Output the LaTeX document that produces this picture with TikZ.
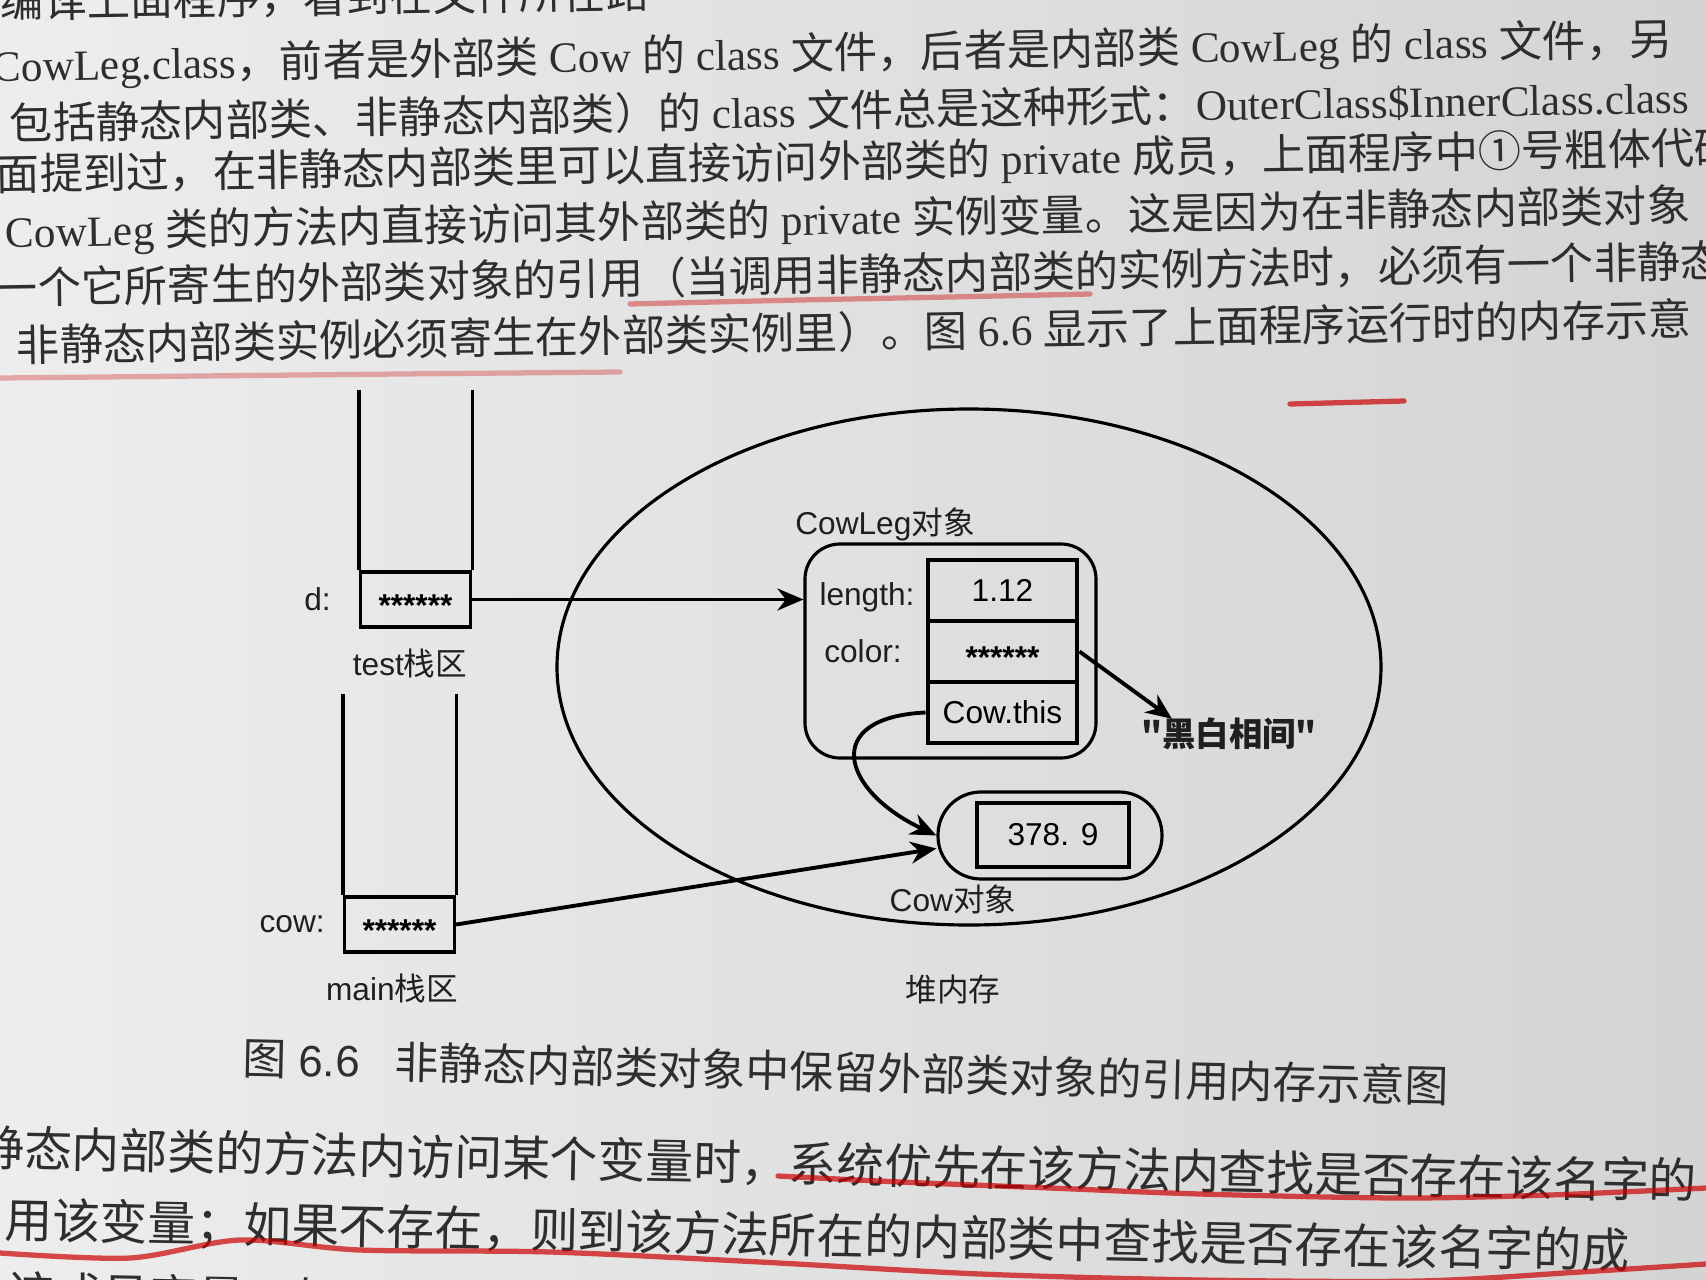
\documentclass[tikz,border=0pt]{standalone}
\usepackage{fontspec}
\setmainfont{Liberation Serif}
\setsansfont{Liberation Sans}
\newfontfamily\cjk{Noto Sans CJK SC}
\usetikzlibrary{arrows.meta,calc,shapes.geometric}

% switch to the CJK font for CJK characters
\XeTeXinterchartokenstate=1
\newXeTeXintercharclass\cjkcls
\count255="3000
\loop \XeTeXcharclass\count255=\cjkcls
  \ifnum\count255<"9FFF \advance\count255 by 1 \repeat
\count255="FF00
\loop \XeTeXcharclass\count255=\cjkcls
  \ifnum\count255<"FFEF \advance\count255 by 1 \repeat
\XeTeXcharclass"2460=\cjkcls
\XeTeXinterchartoks 0 \cjkcls = {\begingroup\cjk}
\XeTeXinterchartoks 4095 \cjkcls = {\begingroup\cjk}
\XeTeXinterchartoks \cjkcls 0 = {\endgroup}
\XeTeXinterchartoks \cjkcls 4095 = {\endgroup}

\newcommand\stars{\raisebox{-1ex}[0pt][0pt]{\bfseries ******}}

\begin{document}
\begin{tikzpicture}[x=0.1mm, y=-0.1mm,
  txt/.style={font=\sffamily\fontsize{9}{10}\selectfont, text=black!88, inner sep=1pt},
  cell/.style={draw, line width=0.9pt, inner sep=0pt, minimum width=11mm, minimum height=5.5mm,
    font=\sffamily\fontsize{9}{10}\selectfont},
  field/.style={draw, line width=1.4pt, inner sep=0pt, minimum width=14.9mm, minimum height=6.1mm,
    font=\sffamily\fontsize{9}{10}\selectfont},
  ptr/.style={line width=1.1pt, -{Stealth[length=2.6mm, width=2.2mm]}},
  body/.style={anchor=west, inner sep=0pt, text=black!82, font=\fontsize{12.3}{14}\selectfont},
  below/.style={anchor=west, inner sep=0pt, text=black!82, font=\fontsize{13.6}{16}\selectfont},
  redpen/.style={red!80!black, line width=1.5pt, line cap=round, opacity=0.7}]

  % photographed page
  \useasboundingbox (0,0) rectangle (1706,1280);
  \clip (0,0) rectangle (1706,1280);
  \shade[left color=gray!14, right color=gray!34] (0,0) rectangle (1706,1280);

  % text above the figure
  \node[body, rotate=0.9] (p1) at (0,2) {编译上面程序，看到在文件所在路};
  \node[body, rotate=0.9] (p2) at (-8,68) {CowLeg.class，前者是外部类 Cow 的 class 文件，后者是内部类 CowLeg 的 class 文件，另};
  \node[body, rotate=0.9] (p3) at (9,123) {包括静态内部类、非静态内部类）的 class 文件总是这种形式：OuterClass\$InnerClass.class};
  \node[body, rotate=0.9] (p4) at (-4,177) {面提到过，在非静态内部类里可以直接访问外部类的 private 成员，上面程序中①号粗体代码};
  \node[body, rotate=0.9] (p5) at (5,234) {CowLeg 类的方法内直接访问其外部类的 private 实例变量。这是因为在非静态内部类对象};
  \node[body, rotate=0.9] (p6) at (-6,288) {一个它所寄生的外部类对象的引用（当调用非静态内部类的实例方法时，必须有一个非静态};
  \node[body, rotate=0.9] (p7) at (16,345) {非静态内部类实例必须寄生在外部类实例里）。图 6.6 显示了上面程序运行时的内存示意};

  % red pen marks
  \draw[redpen, opacity=0.4] plot[smooth] coordinates {(630,304) (800,300) (950,297) (1090,294)};
  \draw[redpen, opacity=0.3] plot[smooth] coordinates {(0,378) (200,376) (400,374) (620,372)};
  \draw[redpen] (1290,404) -- (1404,401);

  % test stack
  \node[cell] (dref) at (415.5,599.5) {\stars};
  \draw[line width=0.9pt] (dref.north west) -- ++(0,-180) (dref.north east) -- ++(0,-180);
  \node[txt, anchor=east] (dlbl) at ($(dref.west)+(-24,0)$) {d:};
  \node[txt] (teststk) at (410,663) {test栈区};

  % main stack
  \node[cell] (cowref) at (399.5,924.5) {\stars};
  \draw[line width=0.9pt] (cowref.north west) -- ++(0,-201) (cowref.north east) -- ++(0,-201);
  \node[txt, anchor=east] (cowlbl) at ($(cowref.west)+(-14,0)$) {cow:};
  \node[txt] (mainstk) at (392,988) {main栈区};

  % heap
  \node[draw, ellipse, line width=0.9pt, minimum width=82.4mm, minimum height=51.6mm] (heap) at (969,667) {};
  \node[txt] (heaplbl) at (953,990) {堆内存};

  % CowLeg object
  \node[draw, line width=0.9pt, rounded corners=3.5mm, minimum width=29.1mm, minimum height=21.4mm] (leg) at (950.5,651) {};
  \node[txt] (legname) at (885,524) {CowLeg对象};
  \node[field] (lenbox) at (1002.5,590.5) {1.12};
  \node[field] (colbox) at (1002.5,651.5) {\stars};
  \node[field] (thisbox) at (1002.5,712.5) {Cow.this};
  \node[txt] (lenlbl) at (867,597) {length:};
  \node[txt] (collbl) at (863,651) {color:};
  \node[txt, font=\cjk\bfseries\fontsize{9.5}{10}\selectfont] (bw) at (1229,734) {"黑白相间"};

  % Cow object
  \node[draw, line width=0.9pt, rounded corners=4.3mm, minimum width=22.4mm, minimum height=8.7mm] (cow) at (1050,835.5) {};
  \node[draw, line width=1.4pt, minimum width=15.2mm, minimum height=6.4mm,
    font=\sffamily\fontsize{9}{10}\selectfont] (weight) at (1053,835) {378. 9};
  \node[txt] (cowname) at (953,899) {Cow对象};

  % references
  \draw[ptr] (dref.east) -- (dref.east -| leg.west);
  \draw[ptr] (cowref.east) -- ([yshift=-1.3mm]cow.west);
  \draw[ptr] (colbox.east) -- ([xshift=3.5mm,yshift=-0.5mm]bw.north west);
  \draw[ptr] (thisbox.west) .. controls +(-105,5) and +(-95,-45) .. (cow.west);

  % caption
  \node[anchor=west, inner sep=0pt, rotate=-1.3, text=black!82, font=\sffamily\fontsize{12.5}{14}\selectfont]
    (caption) at (242,1058) {图 6.6\hspace{3.5mm}非静态内部类对象中保留外部类对象的引用内存示意图};

  % text below the figure
  \node[below, rotate=-1.1] (q1) at (-24,1148) {静态内部类的方法内访问某个变量时，系统优先在该方法内查找是否存在该名字的};
  \node[below, rotate=-1.1] (q2) at (4,1221) {用该变量；如果不存在，则到该方法所在的内部类中查找是否存在该名字的成};
  \node[below, rotate=-1.1] (q3) at (6,1294) {该成员变量，如果不存在，则到该内部类所};
  \draw[redpen] plot[smooth] coordinates {(778,1176) (900,1182) (1050,1188) (1200,1194) (1400,1198) (1550,1195) (1706,1188)};
  \draw[redpen] plot[smooth] coordinates {(0,1253) (130,1258) (240,1240) (360,1250) (550,1252) (760,1262) (980,1274) (1200,1280) (1420,1281) (1580,1272) (1706,1264)};
\end{tikzpicture}
\end{document}
